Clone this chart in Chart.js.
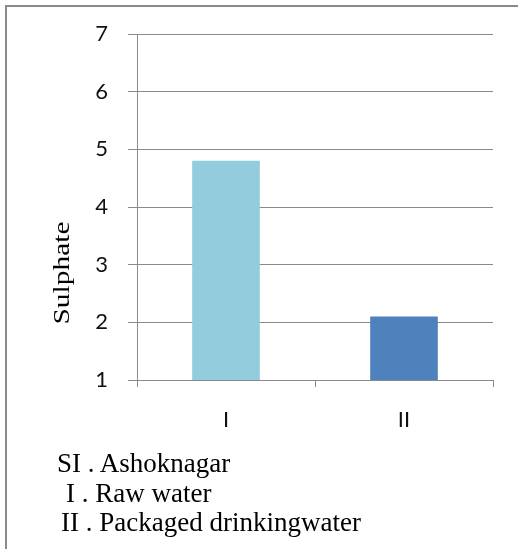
<!DOCTYPE html>
<html lang="en">
<head>
  <meta charset="UTF-8" />
  <title>Sulphate</title>
  <script src="https://cdn.jsdelivr.net/npm/chart.js"></script>
  <style>
    html, body { margin: 0; padding: 0; background: #fff; }
    #wrap { position: relative; width: 518px; height: 549px; overflow: hidden; }
    #frame {
      position: absolute; left: 5px; top: 5px; width: 520px; height: 560px;
      border-top: 2px solid #8a8a8a; border-left: 2px solid #8a8a8a;
    }
    #grafica { position: absolute; left: 0; top: 0; }
    .nota {
      position: absolute; font-family: "Liberation Serif", "Times New Roman", serif;
      font-size: 27px; line-height: 1; color: #000; white-space: pre;
    }
  </style>
</head>
<body>
  <div id="wrap">
    <canvas id="grafica" width="518" height="440"></canvas>
    <div id="frame"></div>
    <div class="nota" style="left:57px; top:450px">SI . Ashoknagar</div>
    <div class="nota" style="left:66px; top:480px">I . Raw water</div>
    <div class="nota" style="left:61px; top:509px">II . Packaged drinkingwater</div>
  </div>

  <script>
    const categories = ['I', 'II'];
    const sulphate = [4.8, 2.1];
    const yMin = 1;
    const yMax = 7;
    const yStep = 1;
    const yTitle = 'Sulphate';

    const colores = ['#93cddd', '#4f81bd'];
    const gris = '#8a8a8a';
    const fuenteEje = { family: '"Liberation Sans Narrow", "Lato", sans-serif', size: 22 };

    // titulo del eje Y, estirado como en la imagen original
    const tituloY = {
      id: 'tituloY',
      afterDraw(chart) {
        const ctx = chart.ctx;
        ctx.save();
        ctx.translate(69, 273);
        ctx.rotate(-Math.PI / 2);
        ctx.scale(1.28, 1);
        ctx.font = '23px "Liberation Serif", "Times New Roman", serif';
        ctx.fillStyle = '#000';
        ctx.textAlign = 'center';
        ctx.textBaseline = 'alphabetic';
        ctx.fillText(yTitle, 0, 0);
        ctx.restore();
      }
    };

    new Chart(document.getElementById('grafica'), {
      type: 'bar',
      data: {
        labels: categories,
        datasets: [{
          label: yTitle,
          data: sulphate,
          backgroundColor: colores,
          borderWidth: 0,
          barPercentage: 0.38,
          categoryPercentage: 1
        }]
      },
      options: {
        responsive: false,
        animation: false,
        layout: { padding: { top: 34, right: 25, left: 0, bottom: 0 } },
        plugins: { legend: { display: false }, tooltip: { enabled: false } },
        scales: {
          x: {
            afterFit(scale) { scale.height = 60; },
            grid: { drawOnChartArea: false, color: gris, tickLength: 7 },
            border: { color: gris },
            ticks: { color: '#111', font: fuenteEje, padding: 20 }
          },
          y: {
            min: yMin,
            max: yMax,
            afterFit(scale) { scale.width = 137; },
            grid: { color: gris, tickLength: 9 },
            border: { color: gris },
            ticks: { stepSize: yStep, color: '#111', font: fuenteEje, padding: 20 }
          }
        }
      },
      plugins: [tituloY]
    });
  </script>
</body>
</html>
